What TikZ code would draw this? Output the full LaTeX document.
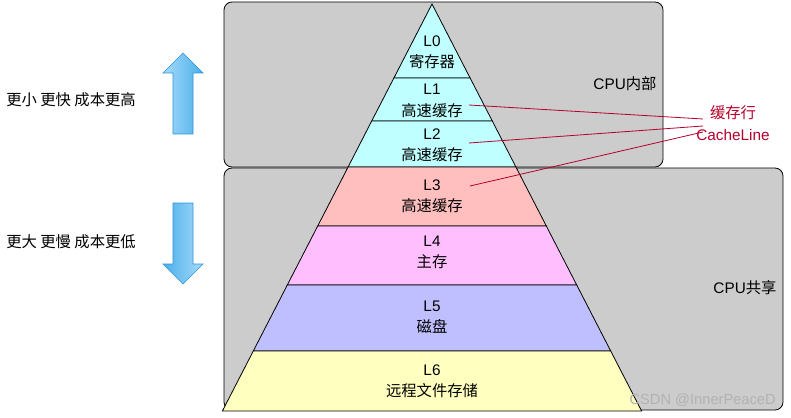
\documentclass[tikz,border=0pt]{standalone}
\usepackage{fontspec}
\setmainfont{Liberation Sans}
\newfontfamily\cjk{Noto Sans CJK SC}
\usetikzlibrary{calc}
\definecolor{boxgray}{HTML}{CCCCCC}
\definecolor{lcyan}{HTML}{BFFFFF}
\definecolor{lred}{HTML}{FFBFBF}
\definecolor{lpink}{HTML}{FFBFFF}
\definecolor{lblue}{HTML}{BFBFFF}
\definecolor{lyellow}{HTML}{FFFFC0}
\definecolor{cline}{HTML}{B5002A}
\definecolor{arrlight}{HTML}{A6DBFA}
\definecolor{arrdark}{HTML}{4AAEEA}
\definecolor{arredge}{HTML}{2E94D8}
\tikzset{
  areabox/.style={draw=black, fill=boxgray, rounded corners=6pt, line width=0.6pt},
  layer/.style={draw=black, line width=0.6pt},
  lbl/.style={font=\fontsize{11.5}{16}\selectfont, align=center, inner sep=0pt},
  side/.style={font=\fontsize{11.5}{14}\selectfont, inner sep=0pt},
  redline/.style={draw=cline, line width=0.6pt},
  arrbox/.style={draw=arredge, line width=0.5pt}
}
\begin{document}
\begin{tikzpicture}[x=0.75pt,y=-0.75pt]
\useasboundingbox (0,0) rectangle (791,417);
% area boxes
\draw[areabox] (224,2) rectangle (663,167);
\draw[areabox] (224,168) rectangle (783,410);
% pyramid layers
\filldraw[layer, fill=lcyan] (432,4) -- (470.1,78) -- (393.9,78) -- cycle;
\filldraw[layer, fill=lcyan] (393.9,78) -- (470.1,78) -- (492.3,121) -- (371.7,121) -- cycle;
\filldraw[layer, fill=lcyan] (371.7,121) -- (492.3,121) -- (515.9,167) -- (348.1,167) -- cycle;
\filldraw[layer, fill=lred] (348.1,167) -- (515.9,167) -- (546.3,226) -- (317.7,226) -- cycle;
\filldraw[layer, fill=lpink] (317.7,226) -- (546.3,226) -- (576.7,285) -- (287.3,285) -- cycle;
\filldraw[layer, fill=lblue] (287.3,285) -- (576.7,285) -- (610.7,351) -- (253.3,351) -- cycle;
\filldraw[layer, fill=lyellow] (253.3,351) -- (610.7,351) -- (641.6,411) -- (222.4,411) -- cycle;
% layer labels
\node[lbl] (l0) at (432,52) {L0\\\cjk 寄存器};
\node[lbl] (l1) at (432,101) {L1\\\cjk 高速缓存};
\node[lbl] (l2) at (432,145) {L2\\\cjk 高速缓存};
\node[lbl] (l3) at (432,196) {L3\\\cjk 高速缓存};
\node[lbl] (l4) at (432,252) {L4\\\cjk 主存};
\node[lbl] (l5) at (432,317) {L5\\\cjk 磁盘};
\node[lbl] (l6) at (432,381) {L6\\\cjk 远程文件存储};
% area labels
\node[side] (inner) at (625,84) {CPU{\cjk 内部}};
\node[side] (shared) at (745,288) {CPU{\cjk 共享}};
% cache line label
\node[lbl, text=cline] (cl) at (733,123) {{\cjk 缓存行}\\CacheLine};
\coordinate (s1) at (469,105);
\coordinate (s2) at (469,143);
\coordinate (s3) at (470,186);
\coordinate (e1) at (703,119);
\coordinate (e2) at (703,126);
\coordinate (e3) at (703,132);
\draw[redline] (s1) -- (e1);
\draw[redline] (s2) -- (e2);
\draw[redline] (s3) -- (e3);
% left arrows
\shade[left color=arrlight, right color=arrdark] (173,134) -- (173,73) -- (163,73) -- (183,53) -- (203,73) -- (193,73) -- (193,134) -- cycle;
\draw[arrbox] (173,134) -- (173,73) -- (163,73) -- (183,53) -- (203,73) -- (193,73) -- (193,134) -- cycle;
\shade[left color=arrdark, right color=arrlight] (173,203) -- (173,264) -- (163,264) -- (183,284) -- (203,264) -- (193,264) -- (193,203) -- cycle;
\draw[arrbox] (173,203) -- (173,264) -- (163,264) -- (183,284) -- (203,264) -- (193,264) -- (193,203) -- cycle;
\node[side, anchor=west] (up) at (6,100) {\cjk 更小 更快 成本更高};
\node[side, anchor=west] (down) at (6,242) {\cjk 更大 更慢 成本更低};
% watermark
\node[side, anchor=east, text=black!30, font=\fontsize{11}{12}\selectfont] (wm) at (776,400) {CSDN @InnerPeaceD};
\end{tikzpicture}
\end{document}
